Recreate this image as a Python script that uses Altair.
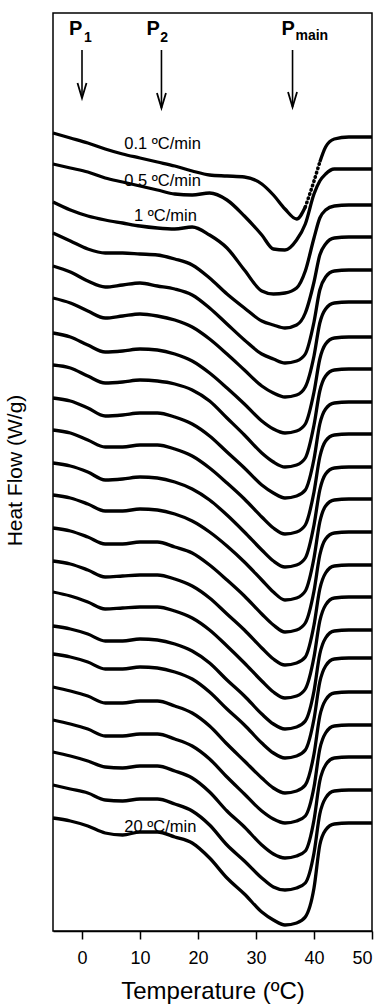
import altair as alt
import pandas as pd

# ---------------- data ----------------
temps = [-5, -2, 1, 4, 7, 10, 13, 16, 19, 22, 25, 28, 31, 33, 35, 37, 38.5, 40, 41, 42, 43.5, 46, 50]

# vertical shift of each trace (baseline level, a.u.), top trace first
baselines = [794, 762, 726, 694, 661, 629, 594, 562, 529, 497, 464,
             432, 399, 366, 334, 301, 273, 239, 206, 174, 141, 108]

# endothermic depth below each baseline (a.u., endo down), sampled at `temps`
endo_01 = [-4, 1, 6, 12, 17, 21, 25, 29, 34, 38, 39, 40, 47, 58, 72, 82, 70, 44, 25, 10, 2, 0, 0]
endo_02 = [-5, -1, 3, 9, 13, 17, 21, 25, 26, 24, 31, 47, 66, 80, 81, 71, 55, 25, 12, 5, 0, 0, 0]
endo_03 = [-3, 5, 11, 15, 18, 21, 23, 24, 22, 30, 43, 65, 86, 89, 88, 83, 66, 33, 13, 5, 1, 0, 0]
endo_04 = [-4, 4, 12, 16, 16, 17, 18, 22, 28, 41, 57, 71, 84, 88, 91, 88, 76, 45, 18, 7, 1, 0, 0]
endo_05 = [-4, 2, 11, 17, 15, 13, 16, 19, 25, 38, 54, 70, 84, 89, 93, 91, 84, 52, 20, 7, 1, 0, 0]
endo_06 = [-4, 1, 9, 16, 14, 12, 14, 18, 25, 37, 52, 68, 84, 91, 95, 93, 85, 54, 21, 7, 1, 0, 0]
endo_07 = [-4, 0, 8, 15, 14, 12, 13, 17, 24, 36, 51, 67, 84, 92, 96, 94, 87, 55, 22, 7, 1, 0, 0]
endo_08 = [-4, -1, 7, 14, 13, 11, 12, 15, 21, 32, 49, 66, 84, 93, 98, 96, 89, 56, 22, 7, 1, 0, 0]
endo_09 = [-4, -1, 6, 14, 13, 11, 11, 15, 22, 34, 50, 66, 83, 91, 96, 94, 88, 57, 22, 7, 1, 0, 0]
endo_10 = [-4, -1, 6, 13, 13, 11, 11, 15, 22, 34, 49, 65, 83, 94, 100, 98, 91, 58, 23, 7, 1, 0, 0]
endo_11 = [-4, -1, 5, 13, 12, 10, 11, 15, 22, 33, 48, 65, 83, 94, 100, 98, 91, 58, 23, 7, 1, 0, 0]
endo_12 = [-4, -1, 5, 12, 12, 10, 11, 15, 22, 33, 47, 63, 81, 93, 101, 99, 92, 59, 23, 7, 1, 0, 0]
endo_13 = [-4, -1, 5, 12, 12, 10, 10, 15, 21, 33, 48, 64, 82, 93, 100, 98, 91, 59, 23, 7, 1, 0, 0]
endo_14 = [-4, -1, 5, 12, 11, 10, 10, 14, 21, 33, 49, 65, 83, 94, 100, 98, 92, 60, 24, 8, 1, 0, 0]
endo_15 = [-5, -1, 5, 12, 11, 10, 10, 14, 21, 33, 49, 66, 84, 95, 101, 99, 92, 60, 24, 8, 1, 0, 0]
endo_16 = [-4, -1, 4, 11, 11, 9, 10, 14, 21, 33, 50, 66, 84, 94, 99, 97, 91, 61, 24, 8, 1, 0, 0]
endo_17 = [-4, -1, 4, 11, 11, 9, 10, 14, 21, 34, 51, 67, 85, 95, 100, 98, 92, 61, 24, 8, 1, 0, 0]
endo_18 = [-5, -1, 4, 11, 11, 9, 9, 14, 21, 34, 52, 69, 86, 96, 101, 99, 93, 62, 24, 8, 1, 0, 0]
endo_19 = [-5, -1, 4, 11, 11, 9, 9, 14, 21, 34, 52, 69, 86, 94, 98, 96, 91, 62, 24, 8, 1, 0, 0]
endo_20 = [-5, -1, 4, 10, 11, 9, 9, 14, 21, 35, 54, 70, 88, 97, 101, 99, 94, 63, 24, 8, 1, 0, 0]
endo_21 = [-5, -1, 3, 10, 11, 9, 9, 14, 21, 35, 55, 71, 88, 97, 100, 98, 93, 63, 24, 8, 1, 0, 0]
endo_22 = [-5, -2, 3, 10, 12, 9, 9, 14, 20, 35, 55, 71, 89, 97, 102, 100, 94, 65, 22, 7, 1, 0, 0]

curves = [endo_01, endo_02, endo_03, endo_04, endo_05, endo_06, endo_07, endo_08,
          endo_09, endo_10, endo_11, endo_12, endo_13, endo_14, endo_15, endo_16,
          endo_17, endo_18, endo_19, endo_20, endo_21, endo_22]

rate_labels = ["0.1 ºC/min", "0.5 ºC/min", "1 ºC/min", "20 ºC/min"]

peak_names = ["P", "P", "P"]
peak_subs = ["1", "2", "main"]
peak_temps = [0, 13.7, 36.3]

# ---------------- build tables ----------------
solid_rows, dotted_rows = [], []
for i, (base, endo) in enumerate(zip(baselines, curves)):
    for t, d in zip(temps, endo):
        hf = base - d
        if i == 0:
            # slowest scan: sparse data points on the fast rising edge
            if t <= 38.5:
                solid_rows.append({"T": t, "hf": hf, "seg": f"{i}a"})
            if 38.5 <= t <= 41:
                dotted_rows.append({"T": t, "hf": hf, "seg": f"{i}b"})
            if t >= 41:
                solid_rows.append({"T": t, "hf": hf, "seg": f"{i}c"})
        else:
            solid_rows.append({"T": t, "hf": hf, "seg": f"{i}"})
solid = pd.DataFrame(solid_rows)
dotted = pd.DataFrame(dotted_rows)

FONT = "Liberation Sans"
xscale = alt.Scale(domain=[-5, 50], nice=False, zero=False)
yscale = alt.Scale(domain=[0, 918], nice=False, zero=False)

x_axis = alt.Axis(values=[0, 10, 20, 30, 40, 50], grid=False, tickSize=8, tickWidth=1.5,
                  tickColor="black", domainColor="black", domainWidth=1.5,
                  labelFont=FONT, labelFontSize=18, labelColor="black",
                  labelBaseline="alphabetic", labelPadding=24,
                  title="Temperature (ºC)", titleFont=FONT, titleFontSize=24,
                  titleFontWeight="normal", titleColor="black",
                  titleBaseline="alphabetic", titleY=67)
y_axis = alt.Axis(grid=False, ticks=False, labels=False, domain=False,
                  title="Heat Flow (W/g)", titleFont=FONT, titleFontSize=21,
                  titleFontWeight="normal", titleColor="black", titleAngle=270,
                  titleX=-38, titleY=457, titleAlign="center", titleBaseline="middle")

lines = alt.Chart(solid).mark_line(interpolate="monotone", strokeWidth=3.3, color="black").encode(
    x=alt.X("T:Q", scale=xscale, axis=x_axis),
    y=alt.Y("hf:Q", scale=yscale, axis=y_axis),
    detail="seg:N",
)
dots = alt.Chart(dotted).mark_line(interpolate="monotone", strokeWidth=3.6, color="black",
                                    strokeDash=[0.5, 4], strokeCap="round").encode(
    x=alt.X("T:Q", scale=xscale), y=alt.Y("hf:Q", scale=yscale), detail="seg:N")

# rate labels
lab_df = pd.DataFrame({
    "text": rate_labels,
    "T": [13.9, 13.9, 14.4, 13.5],
    "hf": [782, 745, 710, 99],
})
labels = alt.Chart(lab_df).mark_text(font=FONT, fontSize=16.5, align="center",
                                     baseline="alphabetic", color="black").encode(
    x=alt.X("T:Q", scale=xscale), y=alt.Y("hf:Q", scale=yscale), text="text:N")

# peak markers
arrow_df = pd.DataFrame({"T": peak_temps, "y1": [881, 881, 881], "y2": [833, 823, 824]})
shafts = alt.Chart(arrow_df).mark_rule(color="black", strokeWidth=1.6).encode(
    x=alt.X("T:Q", scale=xscale), y=alt.Y("y1:Q", scale=yscale), y2="y2:Q")
heads = alt.Chart(arrow_df).mark_point(shape="M-0.3,-1L0,0L0.3,-1", size=900, filled=False,
                                       strokeWidth=1.8, color="black", opacity=1).encode(
    x=alt.X("T:Q", scale=xscale), y=alt.Y("y2:Q", scale=yscale))

p_df = pd.DataFrame({"text": peak_names, "T": [-2.26, 11.1, 34.4], "hf": [896, 896, 896]})
p_txt = alt.Chart(p_df).mark_text(font=FONT, fontSize=20, fontWeight="bold", align="left",
                                  baseline="alphabetic", color="black").encode(
    x=alt.X("T:Q", scale=xscale), y=alt.Y("hf:Q", scale=yscale), text="text:N")
s_df = pd.DataFrame({"text": peak_subs, "T": [0.35, 13.5, 36.8], "hf": [889, 889, 891]})
s_txt = alt.Chart(s_df).mark_text(font=FONT, fontSize=14, fontWeight="bold", align="left",
                                  baseline="alphabetic", color="black").encode(
    x=alt.X("T:Q", scale=xscale), y=alt.Y("hf:Q", scale=yscale), text="text:N")

chart = alt.layer(lines, dots, labels, shafts, heads, p_txt, s_txt).properties(
    width=319, height=918,
    autosize=alt.AutoSizeParams(type="none"),
    padding={"left": 53, "top": 13, "right": 14, "bottom": 73},
    background="white",
).configure_view(stroke="black", strokeWidth=1.5)

chart.save("out.html", embed_options={"renderer": "svg", "actions": False})
